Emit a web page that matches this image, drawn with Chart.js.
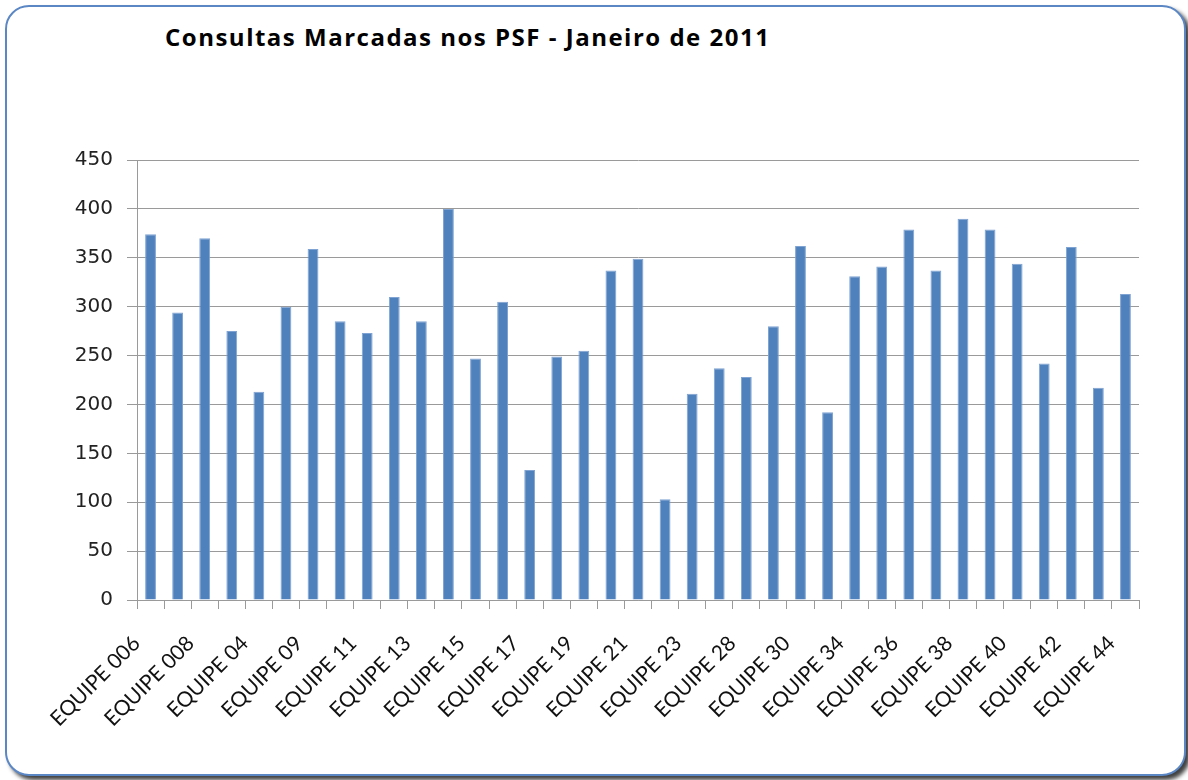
<!DOCTYPE html>
<html>
<head>
<meta charset="utf-8">
<script src="https://cdn.jsdelivr.net/npm/chart.js"></script>
<style>
  html, body { margin: 0; padding: 0; background: #fff; }
  body { width: 1188px; height: 780px; position: relative; overflow: hidden; }
  .frame {
    position: absolute; left: 5px; top: 5px; width: 1177px; height: 767px;
    border: 2px solid #5b87c5; border-radius: 24px;
    box-shadow: 4px 4px 4px rgba(0, 0, 0, 0.75);
    background: #fff;
  }
  .title {
    position: absolute; left: 165px; top: 20px;
    font-family: "Open Sans", Lato, sans-serif; font-weight: bold; font-size: 24px;
    letter-spacing: 1.5px;
    color: #000; white-space: nowrap;
  }
  #c { position: absolute; left: 0; top: 0; }
</style>
</head>
<body>
<div class="frame"></div>
<div class="title">Consultas Marcadas nos PSF - Janeiro de 2011</div>
<canvas id="c" width="1188" height="780"></canvas>
<script>
// equipes (only every other label is printed on the axis)
const equipes = [
  'EQUIPE 006', 'EQUIPE 007', 'EQUIPE 008', 'EQUIPE 03', 'EQUIPE 04', 'EQUIPE 05',
  'EQUIPE 09', 'EQUIPE 10', 'EQUIPE 11', 'EQUIPE 12', 'EQUIPE 13', 'EQUIPE 14',
  'EQUIPE 15', 'EQUIPE 16', 'EQUIPE 17', 'EQUIPE 18', 'EQUIPE 19', 'EQUIPE 20',
  'EQUIPE 21', 'EQUIPE 22', 'EQUIPE 23', 'EQUIPE 24', 'EQUIPE 28', 'EQUIPE 29',
  'EQUIPE 30', 'EQUIPE 31', 'EQUIPE 34', 'EQUIPE 35', 'EQUIPE 36', 'EQUIPE 37',
  'EQUIPE 38', 'EQUIPE 39', 'EQUIPE 40', 'EQUIPE 41', 'EQUIPE 42', 'EQUIPE 43',
  'EQUIPE 44'
];
const consultas = [
  374, 294, 370, 275, 213, 300, 359, 285, 273, 310, 285, 400,
  247, 305, 133, 249, 255, 337, 349, 103, 211, 237, 228, 280,
  362, 192, 331, 341, 379, 337, 390, 379, 344, 242, 361, 217,
  313
];
const yMin = 0;
const yMax = 450;
const yStep = 50;

const gridGray = '#9a9a9a';

new Chart(document.getElementById('c').getContext('2d'), {
  type: 'bar',
  data: {
    labels: equipes,
    datasets: [{
      label: 'Consultas',
      data: consultas,
      backgroundColor: '#4f81bd',
      borderColor: '#7fa3d2',
      borderWidth: 1,
      borderSkipped: 'bottom',
      categoryPercentage: 1,
      barPercentage: 0.4
    }]
  },
  options: {
    responsive: false,
    animation: false,
    layout: {
      padding: { left: 0, right: 49, top: 160, bottom: 0 }
    },
    plugins: {
      legend: { display: false },
      tooltip: { enabled: false }
    },
    scales: {
      x: {
        grid: {
          offset: true,
          drawOnChartArea: false,
          drawTicks: true,
          tickLength: 9,
          color: gridGray
        },
        border: { display: true, color: gridGray },
        ticks: {
          autoSkip: false,
          minRotation: 45,
          maxRotation: 45,
          labelOffset: -14,
          padding: 22,
          color: '#111',
          font: { family: 'Lato, "Open Sans", sans-serif', size: 21 },
          callback: (value, index) => index % 2 === 0 ? equipes[index] : ''
        },
        afterFit: (scale) => { scale.height = 180; }
      },
      y: {
        min: yMin,
        max: yMax,
        grid: {
          color: gridGray,
          tickLength: 10
        },
        border: { display: true, color: gridGray },
        ticks: {
          stepSize: yStep,
          padding: 14,
          color: '#222',
          font: { family: '"DejaVu Sans", sans-serif', size: 20 }
        },
        afterFit: (scale) => { scale.width = 137; }
      }
    }
  }
});
</script>
</body>
</html>
